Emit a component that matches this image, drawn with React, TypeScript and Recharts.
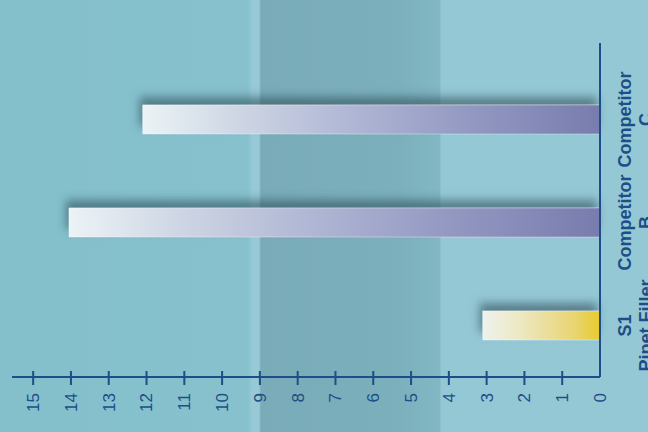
import { BarChart, Bar, XAxis, YAxis, Cell } from "recharts";

// chart is drawn as a normal column chart and then turned a quarter turn left
const categories = ["S1\nPipet Filler", "Competitor\nB", "Competitor\nC"];
const values = [3.1, 14.05, 12.1];
const barFills = ["url(#gradYellow)", "url(#gradPurple)", "url(#gradPurple)"];
const valueTicks = [0, 1, 2, 3, 4, 5, 6, 7, 8, 9, 10, 11, 12, 13, 14, 15];

const data = categories.map((name, i) => ({ name, value: values[i] }));

const INK = "#1d4e87";
const FONT = "'Liberation Sans', Arial, sans-serif";

const ValueTick = (props: any) => {
  const { x, y, payload } = props;
  return (
    <g>
      {payload.value !== 0 && (
        <line x1={x - 8} x2={x + 6} y1={y} y2={y} stroke={INK} strokeWidth={2} />
      )}
      <text
        x={x - 16}
        y={y}
        dy="0.35em"
        textAnchor="end"
        fill={INK}
        fontSize={17}
        fontFamily={FONT}
      >
        {payload.value}
      </text>
    </g>
  );
};

const CategoryTick = (props: any) => {
  const { x, y, payload } = props;
  const lines = String(payload.value).split("\n");
  return (
    <text
      x={x}
      y={y}
      textAnchor="middle"
      fill={INK}
      fontSize={18}
      fontWeight="bold"
      fontFamily={FONT}
    >
      {lines.map((l, i) => (
        <tspan key={i} x={x} y={y + 31 + i * 21}>
          {l}
        </tspan>
      ))}
    </text>
  );
};

export default function App() {
  return (
    <div
      style={{
        position: "absolute",
        left: 0,
        top: 0,
        width: 648,
        height: 432,
        overflow: "hidden",
        background:
          "linear-gradient(to right, #84bfcc 0px, #87c1ce 248px, #97c9d6 252px, #97c9d6 259px, #79abb8 261px, #7cb0bd 400px, #82b7c4 440px, #95c8d5 441px, #95c8d5 648px)",
      }}
    >
      <div
        style={{
          position: "absolute",
          left: 0,
          top: 0,
          width: 432,
          height: 648,
          transform: "translate(0px, 432px) rotate(-90deg)",
          transformOrigin: "0 0",
        }}
      >
        <BarChart
          width={432}
          height={648}
          data={data}
          margin={{ top: 12, right: 43, bottom: 0, left: 0 }}
        >
          <defs>
            <linearGradient id="gradYellow" x1="0" y1="0" x2="0" y2="1">
              <stop offset="0%" stopColor="#eef2ee" />
              <stop offset="30%" stopColor="#ede9c4" />
              <stop offset="50%" stopColor="#ebe0a4" />
              <stop offset="80%" stopColor="#e9d46c" />
              <stop offset="100%" stopColor="#e8cb2c" />
            </linearGradient>
            <linearGradient id="gradPurple" x1="0" y1="0" x2="0" y2="1">
              <stop offset="0%" stopColor="#ecf3f6" />
              <stop offset="20%" stopColor="#cfd7e5" />
              <stop offset="40%" stopColor="#b6bdd8" />
              <stop offset="70%" stopColor="#959ac3" />
              <stop offset="100%" stopColor="#787cae" />
            </linearGradient>
            <filter
              id="barShadow"
              filterUnits="userSpaceOnUse"
              x="0"
              y="0"
              width="432"
              height="648"
            >
              <feDropShadow
                dx="8"
                dy="-3"
                stdDeviation="5"
                floodColor="#2c4f5c"
                floodOpacity="0.6"
              />
            </filter>
          </defs>
          <XAxis
            dataKey="name"
            interval={0}
            padding={{ left: 0, right: 25 }}
            axisLine={{ stroke: INK, strokeWidth: 2 }}
            tickLine={false}
            tickSize={0}
            tickMargin={0}
            height={48}
            tick={<CategoryTick />}
          />
          <YAxis
            type="number"
            domain={[0, 15.56]}
            ticks={valueTicks}
            interval={0}
            width={55}
            axisLine={{ stroke: INK, strokeWidth: 2 }}
            tickLine={false}
            tickSize={0}
            tickMargin={0}
            tick={<ValueTick />}
          />
          <Bar
            dataKey="value"
            barSize={29}
            isAnimationActive={false}
            filter="url(#barShadow)"
            stroke="rgba(255,255,255,0.35)"
            strokeWidth={1}
          >
            {data.map((_, i) => (
              <Cell key={i} fill={barFills[i]} />
            ))}
          </Bar>
        </BarChart>
      </div>
    </div>
  );
}
